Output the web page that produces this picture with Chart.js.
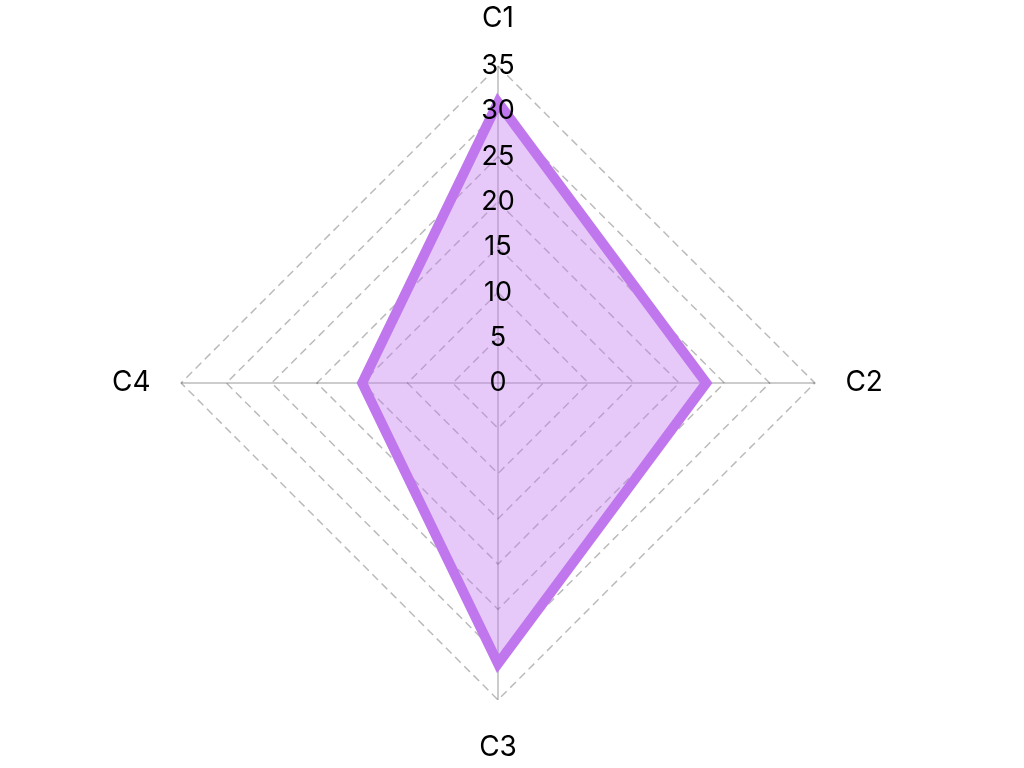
<!DOCTYPE html>
<html>
<head>
<meta charset="utf-8">
<script src="https://cdn.jsdelivr.net/npm/chart.js@4"></script>
<style>
html,body{margin:0;padding:0;background:#fff;}
#wrap{width:1024px;height:768px;}
</style>
</head>
<body>
<div id="wrap"><canvas id="c" width="1024" height="768"></canvas></div>
<script>
const categories = ["C1", "C2", "C3", "C4"];
const seriesValues = [31, 23, 31, 15];
const tickMin = 0;
const tickMax = 35;
const tickStep = 5;

const tickFont = { family: 'Inter', size: 27 };
const labelFont = { family: 'Inter', size: 28 };

// Chart.js skips the label of the first (zero) tick on radial scales; draw it via the scale.
const zeroLabel = {
  id: 'zeroLabel',
  afterDatasetsDraw(chart) {
    const s = chart.scales.r;
    const p = s.getPointPositionForValue(0, tickMin);
    const ctx = chart.ctx;
    ctx.save();
    ctx.font = `${tickFont.size}px ${tickFont.family}`;
    ctx.fillStyle = '#000';
    ctx.textAlign = 'center';
    ctx.textBaseline = 'middle';
    ctx.fillText(String(tickMin), p.x, p.y);
    ctx.restore();
  }
};

new Chart(document.getElementById('c'), {
  type: 'radar',
  data: {
    labels: categories,
    datasets: [{
      data: seriesValues,
      borderColor: '#c077ee',
      backgroundColor: 'rgba(192,119,238,0.4)',
      borderWidth: 10,
      pointRadius: 0,
      fill: true
    }]
  },
  options: {
    responsive: false,
    animation: false,
    layout: { padding: { left: 0, right: 28, top: 3, bottom: 3 } },
    plugins: { legend: { display: false }, tooltip: { enabled: false } },
    scales: {
      r: {
        min: tickMin,
        max: tickMax,
        ticks: {
          stepSize: tickStep,
          showLabelBackdrop: false,
          color: '#000',
          font: tickFont,
          z: 1
        },
        grid: {
          color: 'rgba(0,0,0,0.27)',
          lineWidth: 1.5
        },
        border: { dash: [8, 5] },
        angleLines: { color: 'rgba(0,0,0,0.27)', lineWidth: 1.5 },
        pointLabels: {
          color: '#000',
          font: labelFont,
          padding: 15
        }
      }
    }
  },
  plugins: [zeroLabel]
});
</script>
</body>
</html>
